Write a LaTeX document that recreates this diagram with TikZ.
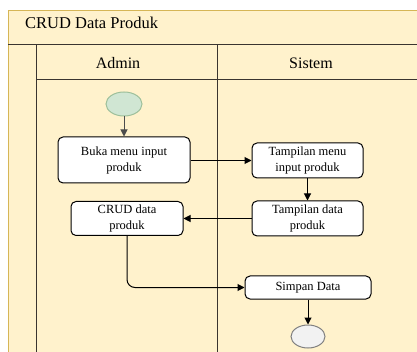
\documentclass[tikz,border=0pt]{standalone}
\usepackage{fontspec}
\setmainfont{Liberation Serif}
\usetikzlibrary{arrows.meta,shapes.geometric}
\definecolor{poolfill}{HTML}{FFF2CC}
\definecolor{poolline}{HTML}{D6B656}
\definecolor{startfill}{HTML}{D0E6D3}
\definecolor{startline}{HTML}{9DBF9A}
\definecolor{endfill}{HTML}{F2F2F2}
\definecolor{laneline}{HTML}{3A3530}
\tikzset{
  actbox/.style={draw=black, fill=white, line width=1pt, rounded corners=5pt,
    align=center, inner sep=0pt, font=\fontsize{12.5}{16}\selectfont},
  flow/.style={-{Triangle[length=7pt,width=7pt]}, line width=1pt},
  lane/.style={draw=laneline, line width=1pt}
}
\begin{document}
\begin{tikzpicture}[x=1pt,y=-1pt]

            \useasboundingbox (0,0) rectangle (417,352);

            % Pool
            \fill[poolfill] (8,10) rectangle (417,352);
            \draw[poolline] (8,352) -- (8,10) -- (417,10);
            \node[anchor=west, inner sep=0pt, font=\fontsize{16.5}{19}\selectfont] (title) at (25,23) {CRUD Data Produk}; % Pool title

            % Lanes
            \draw[lane] (8,45) -- (417,45); % under title
            \draw[lane] (36,45) -- (36,352); % left lane edge
            \draw[lane] (217,45) -- (217,352); % lane divider
            \draw[lane] (36,80) -- (417,80); % under lane headers
            \node[font=\fontsize{16}{19}\selectfont] (admin) at (118,63) {Admin}; % Lane Admin
            \node[font=\fontsize{16}{19}\selectfont] (sistem) at (311,63) {Sistem}; % Lane Sistem

            % Start and end
            \node[ellipse, draw=startline, fill=startfill, line width=1pt, minimum width=36pt, minimum height=24pt, inner sep=0pt] (start) at (124,104) {};
            \node[ellipse, draw=gray, fill=endfill, line width=1pt, minimum width=34pt, minimum height=23pt, inner sep=0pt] (stop) at (308,336.5) {};

            % Activities
            \node[actbox, minimum width=132pt, minimum height=46pt] (buka) at (124,160) {Buka menu input\\produk};
            \node[actbox, minimum width=111pt, minimum height=35pt] (tmenu) at (307.5,160.5) {Tampilan menu\\input produk};
            \node[actbox, minimum width=111pt, minimum height=35pt] (tdata) at (307.5,218.5) {Tampilan data\\produk};
            \node[actbox, minimum width=112pt, minimum height=34pt] (crud) at (127,218.5) {CRUD data\\produk};
            \node[actbox, minimum width=126pt, minimum height=23pt] (simpan) at (308,287.5) {Simpan Data};

            % Flows
            \draw[flow, draw=black!70] (start) -- (buka);
            \draw[flow] (buka.east |- tmenu) -- (tmenu);
            \draw[flow] (tmenu) -- (tdata);
            \draw[flow] (tdata) -- (crud);
            \draw[flow, rounded corners=8pt] (crud.south) |- (simpan.west);
            \draw[flow] (simpan) -- (stop);

        \end{tikzpicture}
\end{document}
